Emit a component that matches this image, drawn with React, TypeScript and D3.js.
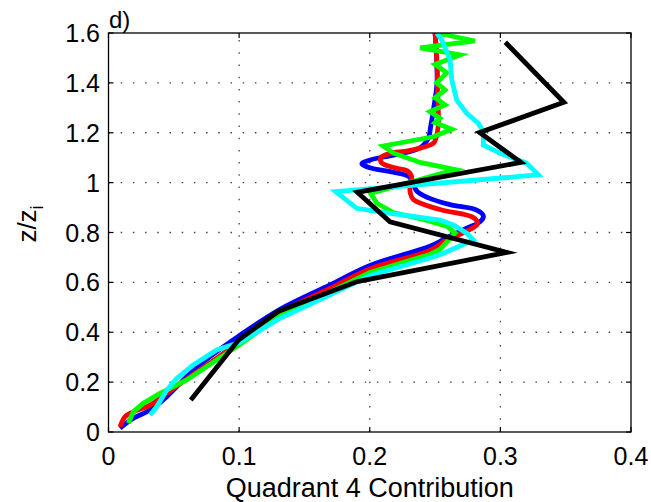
import React, { useEffect } from "react";
import * as d3 from "d3";

// Quadrant 4 contribution profiles, [contribution, z/zi]
const blueProfile: [number, number][] = [
  [0.2500, 1.600], [0.2510, 1.520], [0.2515, 1.400], [0.2490, 1.300], [0.2465, 1.220],
  [0.2450, 1.180], [0.2385, 1.140], [0.2200, 1.112], [0.2010, 1.092], [0.1940, 1.076],
  [0.2000, 1.060], [0.2180, 1.042], [0.2300, 1.024], [0.2330, 0.998], [0.2360, 0.966],
  [0.2445, 0.940], [0.2615, 0.912], [0.2819, 0.890], [0.2870, 0.866], [0.2844, 0.843],
  [0.2742, 0.817], [0.2580, 0.776], [0.2461, 0.745], [0.2002, 0.668], [0.1696, 0.590],
  [0.1313, 0.492], [0.1007, 0.388], [0.0777, 0.302], [0.0624, 0.235], [0.0446, 0.142],
  [0.0318, 0.088], [0.0190, 0.055], [0.0088, 0.015],
];

const redProfile: [number, number][] = [
  [0.2500, 1.600], [0.2513, 1.500], [0.2520, 1.350], [0.2525, 1.230], [0.2505, 1.175],
  [0.2487, 1.157], [0.2300, 1.128], [0.2155, 1.117], [0.2085, 1.100], [0.2090, 1.080],
  [0.2200, 1.058], [0.2283, 1.048], [0.2320, 1.024], [0.2308, 0.990], [0.2310, 0.960],
  [0.2334, 0.932], [0.2538, 0.892], [0.2793, 0.860], [0.2825, 0.835], [0.2742, 0.805],
  [0.2589, 0.770], [0.2461, 0.728], [0.2002, 0.654], [0.1696, 0.576], [0.1313, 0.478],
  [0.1007, 0.365], [0.0828, 0.296], [0.0624, 0.222], [0.0446, 0.155], [0.0318, 0.108],
  [0.0190, 0.081], [0.0126, 0.061], [0.0088, 0.021],
];

const greenProfile: [number, number][] = [
  [0.2513, 1.600], [0.2806, 1.568], [0.2385, 1.540], [0.2691, 1.512], [0.2500, 1.474],
  [0.2589, 1.440], [0.2513, 1.400], [0.2576, 1.372], [0.2500, 1.340], [0.2576, 1.312],
  [0.2461, 1.285], [0.2538, 1.258], [0.2500, 1.240], [0.2628, 1.214], [0.2487, 1.184],
  [0.2103, 1.147], [0.2182, 1.118], [0.2393, 1.080], [0.2655, 1.052], [0.2006, 0.957],
  [0.2054, 0.917], [0.2180, 0.880], [0.2410, 0.852], [0.2590, 0.825], [0.2653, 0.798],
  [0.2538, 0.732], [0.2461, 0.712], [0.2002, 0.640], [0.1696, 0.562], [0.1313, 0.465],
  [0.1007, 0.352], [0.0828, 0.289], [0.0599, 0.209], [0.0394, 0.155], [0.0266, 0.115],
  [0.0190, 0.081], [0.0152, 0.035],
];

const cyanProfile: [number, number][] = [
  [0.2513, 1.600], [0.2551, 1.572], [0.2615, 1.492], [0.2628, 1.412], [0.2666, 1.331],
  [0.2742, 1.278], [0.2831, 1.238], [0.2870, 1.204], [0.2870, 1.151], [0.2997, 1.118],
  [0.3200, 1.078], [0.3290, 1.031], [0.1740, 0.964], [0.1900, 0.897], [0.2078, 0.883],
  [0.2538, 0.850], [0.2640, 0.830], [0.2742, 0.797], [0.2793, 0.770], [0.2560, 0.716],
  [0.2461, 0.698], [0.2002, 0.628], [0.1696, 0.550], [0.1313, 0.456], [0.1007, 0.360],
  [0.0828, 0.329], [0.0649, 0.269], [0.0522, 0.215], [0.0446, 0.168], [0.0369, 0.101],
  [0.0318, 0.068],
];

const blackProfile: [number, number][] = [
  [0.0630, 0.128], [0.0995, 0.369], [0.1300, 0.484], [0.1905, 0.603], [0.3050, 0.720],
  [0.2155, 0.843], [0.1905, 0.961], [0.3157, 1.081], [0.2841, 1.201], [0.3486, 1.322],
  [0.3038, 1.563],
];

const xTicks = [0, 0.1, 0.2, 0.3, 0.4];
const yTicks = [0, 0.2, 0.4, 0.6, 0.8, 1, 1.2, 1.4, 1.6];

const W = 651;
const H = 502;
const left = 108.5;
const right = 631;
const top = 33;
const bottom = 432;

const FONT = "'Liberation Sans', Arial, Helvetica, sans-serif";

export default function App() {
  useEffect(() => {
    document.body.style.margin = "0";
  }, []);

  const x = d3.scaleLinear().domain([0, 0.4]).range([left, right]);
  const y = d3.scaleLinear().domain([0, 1.6]).range([bottom, top]);

  const straight = d3
    .line<[number, number]>()
    .x((d) => x(d[0]))
    .y((d) => y(d[1]));
  const smooth = d3
    .line<[number, number]>()
    .x((d) => x(d[0]))
    .y((d) => y(d[1]))
    .curve(d3.curveCatmullRom.alpha(0.5));

  const series = [
    { data: blueProfile, color: "#0000ff", gen: smooth },
    { data: redProfile, color: "#ff0000", gen: smooth },
    { data: greenProfile, color: "#00ff00", gen: straight },
    { data: cyanProfile, color: "#00ffff", gen: straight },
    { data: blackProfile, color: "#000000", gen: straight },
  ];

  const tickLen = 5;
  const fmt = (v: number) => String(+v.toFixed(1));

  return (
    <svg width={W} height={H} style={{ display: "block", background: "#fff" }}>
      <defs>
        <clipPath id="plotArea">
          <rect x={left} y={top} width={right - left} height={bottom - top} />
        </clipPath>
      </defs>

      {/* dotted grid */}
      <g stroke="#444" strokeWidth={1.3} strokeDasharray="1.5 10.7">
        {xTicks.slice(1, -1).map((t) => (
          <line key={"gx" + t} x1={x(t)} x2={x(t)} y1={bottom} y2={top} />
        ))}
        {yTicks.slice(1, -1).map((t) => (
          <line key={"gy" + t} x1={left} x2={right} y1={y(t)} y2={y(t)} />
        ))}
      </g>

      {/* profiles */}
      <g clipPath="url(#plotArea)" fill="none" strokeWidth={4.8} strokeLinejoin="miter" strokeMiterlimit={6}>
        {series.map((s, i) => (
          <path key={i} d={s.gen(s.data) || ""} stroke={s.color} />
        ))}
      </g>

      {/* box and inward ticks */}
      <rect x={left} y={top} width={right - left} height={bottom - top} fill="none" stroke="#000" strokeWidth={1.3} />
      <g stroke="#000" strokeWidth={1.2}>
        {xTicks.map((t) => (
          <g key={"tx" + t}>
            <line x1={x(t)} x2={x(t)} y1={bottom} y2={bottom - tickLen} />
            <line x1={x(t)} x2={x(t)} y1={top} y2={top + tickLen} />
          </g>
        ))}
        {yTicks.map((t) => (
          <g key={"ty" + t}>
            <line x1={left} x2={left + tickLen} y1={y(t)} y2={y(t)} />
            <line x1={right} x2={right - tickLen} y1={y(t)} y2={y(t)} />
          </g>
        ))}
      </g>

      {/* tick labels */}
      <g fontFamily={FONT} fontSize={25} fill="#000">
        {xTicks.map((t) => (
          <text key={"lx" + t} x={x(t)} y={465} textAnchor="middle">
            {fmt(t)}
          </text>
        ))}
        {yTicks.map((t) => (
          <text key={"ly" + t} x={100} y={y(t) + 9} textAnchor="end">
            {fmt(t)}
          </text>
        ))}
      </g>

      {/* axis titles */}
      <text x={(left + right) / 2} y={497} textAnchor="middle" fontFamily={FONT} fontSize={27}>
        Quadrant 4 Contribution
      </text>
      <text
        transform={`translate(36, 224) rotate(-90)`}
        textAnchor="middle"
        fontFamily={FONT}
        fontSize={26}
      >
        z/z
        <tspan fontSize={18} dy={7}>
          i
        </tspan>
      </text>
      <text x={109} y={28} fontFamily={FONT} fontSize={24}>
        d)
      </text>
    </svg>
  );
}
